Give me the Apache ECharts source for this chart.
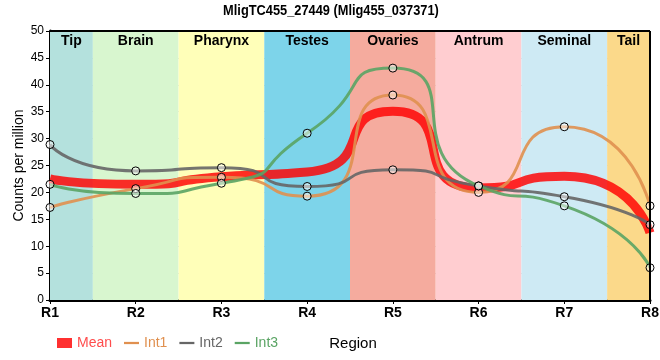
<!DOCTYPE html>
<html>
<head>
<meta charset="utf-8">
<script src="https://cdn.jsdelivr.net/npm/echarts@6/dist/echarts.min.js"></script>
<style>html,body{margin:0;padding:0;background:#fff}#c{width:660px;height:360px}</style>
</head>
<body>
<div id="c"></div>
<script>
const categories = ['R1','R2','R3','R4','R5','R6','R7','R8'];
const regions = ['Tip','Brain','Pharynx','Testes','Ovaries','Antrum','Seminal','Tail'];
const regionColors = ['#b4e1dd','#d8f6cf','#ffffb9','#7dd4ea','#f5ab9e','#ffcdd0','#ceeaf4','#fbd98a'];
const int1 = [17.2, 20.7, 22.8, 19.3, 38.1, 20.0, 32.2, 17.5];
const int2 = [28.9, 24.0, 24.6, 21.1, 24.2, 21.2, 19.2, 14.0];
const int3 = [21.5, 19.8, 21.7, 31.0, 43.1, 21.2, 17.5, 6.0];
const mean = [22.5, 21.5, 22.9, 23.8, 35.1, 20.8, 23.0, 12.5];
const yTicks = [0, 5, 10, 15, 20, 25, 30, 35, 40, 45, 50];
const titleText = 'MligTC455_27449 (Mlig455_037371)';

const narrow = "'Liberation Sans Narrow', 'Liberation Sans', Arial, sans-serif";
const sans = "'Liberation Sans', Arial, sans-serif";

function pairs(arr){ return arr.map((v,i)=>[i+1, v]); }

const bands = regions.map((name,i)=>[
  {xAxis: Math.max(1, i+0.5), name: name, itemStyle:{color: regionColors[i]}},
  {xAxis: Math.min(categories.length, i+1.5)}
]);

const SM = 0.75;
const sym = {symbol:'circle', symbolSize:8};
const symStyle = {color:'rgba(255,255,255,0.5)', borderColor:'#000', borderWidth:1};
const lineIcon = 'path://M0,0 L20,0 L20,3 L0,3 Z';

const chart = echarts.init(document.getElementById('c'), null, {renderer:'canvas'});
chart.setOption({
  animation:false,
  graphic:[{type:'text', x:331, y:11, scaleX:0.915, scaleY:1,
    style:{text:titleText, fontFamily:sans, fontWeight:'bold', fontSize:14, fill:'#000',
      textAlign:'center', textVerticalAlign:'middle'}}],
  grid:{left:50, right:10, top:31, bottom:60, show:false, outerBoundsMode:'none'},
  legend:{left:52, top:331, itemGap:12, itemWidth:15, itemHeight:10,
    textStyle:{fontFamily:narrow, fontSize:14},
    data:[
      {name:'Mean', icon:'rect', itemStyle:{color:'#ff3030', borderWidth:0}, textStyle:{color:'#ff4d4d'}},
      {name:'Int1', icon:lineIcon, itemStyle:{color:'#e0904f', borderColor:'#e0904f', borderWidth:0}, textStyle:{color:'#e0904f'}},
      {name:'Int2', icon:lineIcon, itemStyle:{color:'#666666', borderColor:'#666666', borderWidth:0}, textStyle:{color:'#666666'}},
      {name:'Int3', icon:lineIcon, itemStyle:{color:'#5aa464', borderColor:'#5aa464', borderWidth:0}, textStyle:{color:'#5aa464'}}
    ]},
  xAxis:{type:'value', min:1, max:categories.length, interval:1,
    name:'Region', nameLocation:'middle', nameGap:36,
    nameTextStyle:{fontFamily:narrow, fontSize:15, color:'#000', padding:[0,0,0,6]},
    axisLine:{show:true, onZero:false, lineStyle:{color:'#000', width:3}},
    axisTick:{show:true, length:4, lineStyle:{color:'#000', width:1}},
    axisLabel:{formatter:v=>categories[v-1], fontFamily:narrow, fontWeight:'bold', fontSize:14, color:'#000', margin:6},
    splitLine:{show:true, lineStyle:{color:'#cccccc', width:1}}},
  yAxis:{type:'value', min:yTicks[0], max:yTicks[yTicks.length-1], interval:5,
    name:'Counts per million', nameLocation:'middle', nameGap:24, nameMoveOverlap:false,
    nameTextStyle:{fontFamily:sans, fontSize:14, color:'#000'},
    axisLine:{show:true, onZero:false, lineStyle:{color:'#000', width:3}},
    axisTick:{show:true, length:4, lineStyle:{color:'#000', width:1}},
    axisLabel:{fontFamily:sans, fontSize:12, color:'#000', margin:6},
    splitLine:{show:true, lineStyle:{color:'#cccccc', width:1}}},
  series:[
    {type:'line', name:'bands', data:[], silent:true,
      markArea:{silent:true, data:bands,
        label:{show:true, position:'insideTop', distance:3, color:'#000', fontFamily:sans, fontWeight:'bold', fontSize:14}}},
    {type:'line', name:'Border', data:[], silent:true,
      markLine:{silent:true, symbol:'none', label:{show:false},
        lineStyle:{color:'#000', width:2, type:'solid'},
        data:[[{coord:[1,50]},{coord:[8,50]}],[{coord:[8,0]},{coord:[8,50]}]]}},
    {type:'line', name:'Mean', data:pairs(mean), smooth:SM, showSymbol:false, symbol:'none',
      lineStyle:{color:'#ff0000', width:9, opacity:0.82}, itemStyle:{color:'#ff3030'}, z:3},
    {type:'line', name:'Int1', data:pairs(int1), smooth:SM, ...sym,
      lineStyle:{color:'#e0904f', width:3, opacity:0.9}, itemStyle:symStyle, z:4},
    {type:'line', name:'Int2', data:pairs(int2), smooth:SM, ...sym,
      lineStyle:{color:'#666666', width:3, opacity:0.9}, itemStyle:symStyle, z:4},
    {type:'line', name:'Int3', data:pairs(int3), smooth:SM, ...sym,
      lineStyle:{color:'#5aa464', width:3, opacity:0.9}, itemStyle:symStyle, z:4}
  ]
});
</script>
</body>
</html>
